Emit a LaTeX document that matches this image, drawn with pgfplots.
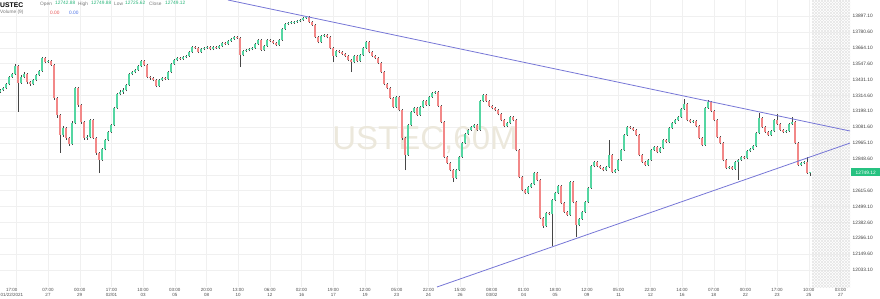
\documentclass[border=0pt]{standalone}
\usepackage{fontspec}
\setmainfont{Liberation Sans}
\usepackage{pgfplots}
\pgfplotsset{compat=1.18}
\usepackage{pgfplotstable}
\usetikzlibrary{patterns}
\definecolor{upc}{RGB}{85,214,162}
\definecolor{dnc}{RGB}{242,136,136}
\definecolor{wickc}{RGB}{70,70,70}
\definecolor{trendc}{RGB}{118,118,214}
\definecolor{wmark}{RGB}{236,232,220}
\definecolor{boxg}{RGB}{38,194,129}
\definecolor{hdrgreen}{RGB}{38,180,120}
\definecolor{hdrred}{RGB}{230,80,80}
\definecolor{hdrblue}{RGB}{70,110,230}
\definecolor{hdrgray}{RGB}{120,120,120}

\pgfplotstableread{
o h l c
13340 13362 13331 13354
13354 13378 13346 13369
13369 13405 13360 13398
13398 13458 13390 13450
13450 13481 13441 13472
13472 13545 13466 13531
13531 13538 13193 13406
13406 13461 13397 13450
13450 13483 13440 13472
13472 13478 13402 13413
13413 13421 13385 13398
13398 13436 13390 13428
13428 13473 13420 13465
13465 13503 13458 13494
13494 13597 13487 13589
13589 13598 13551 13560
13560 13578 13552 13567
13567 13574 13530 13538
13538 13545 13284 13296
13296 13305 13150 13171
13171 13180 12892 13024
13024 13088 13012 13075
13075 13083 12990 13002
13002 13010 12945 12958
12958 13125 12950 13112
13112 13378 13105 13369
13369 13376 13232 13244
13244 13252 13108 13119
13119 13127 12990 13002
13002 13021 12991 13009
13009 13143 13000 13134
13134 13140 12993 13002
13002 13010 12880 12892
12892 12900 12745 12841
12841 12930 12833 12921
12921 12996 12912 12987
12987 13055 12979 13046
13046 13106 13037 13097
13097 13230 13090 13222
13222 13334 13214 13325
13325 13352 13315 13340
13340 13366 13328 13354
13354 13399 13345 13391
13391 13480 13384 13472
13472 13497 13463 13486
13486 13510 13476 13501
13501 13540 13494 13531
13531 13576 13523 13567
13567 13573 13529 13538
13538 13545 13440 13450
13450 13458 13431 13442
13442 13449 13418 13428
13428 13434 13374 13384
13384 13437 13377 13428
13428 13452 13420 13442
13442 13450 13427 13436
13436 13494 13430 13486
13486 13553 13479 13545
13545 13584 13538 13575
13575 13599 13567 13589
13589 13596 13573 13582
13582 13603 13575 13594
13594 13613 13586 13604
13604 13641 13597 13633
13633 13678 13626 13670
13670 13679 13655 13663
13663 13669 13625 13633
13633 13664 13626 13655
13655 13672 13647 13663
13663 13679 13655 13670
13670 13676 13646 13655
13655 13678 13648 13670
13670 13677 13655 13663
13663 13686 13656 13677
13677 13707 13670 13699
13699 13705 13684 13692
13692 13722 13685 13714
13714 13737 13707 13729
13729 13752 13722 13743
13743 13750 13728 13736
13736 13741 13523 13611
13611 13650 13603 13641
13641 13658 13633 13648
13648 13664 13640 13655
13655 13672 13647 13663
13663 13700 13656 13692
13692 13729 13685 13721
13721 13727 13639 13648
13648 13685 13641 13677
13677 13729 13670 13721
13721 13728 13706 13714
13714 13720 13690 13699
13699 13705 13676 13685
13685 13729 13678 13721
13721 13810 13715 13802
13802 13847 13795 13839
13839 13855 13831 13846
13846 13859 13838 13850
13850 13862 13842 13854
13854 13867 13847 13858
13858 13877 13851 13868
13868 13891 13861 13883
13883 13900 13876 13890
13890 13896 13846 13854
13854 13861 13823 13832
13832 13838 13733 13743
13743 13750 13697 13707
13707 13759 13700 13751
13751 13767 13743 13758
13758 13765 13734 13743
13743 13749 13653 13663
13663 13669 13560 13604
13604 13649 13597 13641
13641 13650 13628 13636
13636 13643 13610 13619
13619 13626 13595 13604
13604 13611 13566 13575
13575 13582 13486 13560
13560 13612 13552 13604
13604 13611 13558 13567
13567 13619 13560 13611
13611 13671 13604 13663
13663 13716 13656 13707
13707 13713 13624 13633
13633 13640 13595 13604
13604 13611 13580 13589
13589 13596 13544 13553
13553 13559 13476 13486
13486 13492 13388 13398
13398 13405 13359 13369
13369 13375 13285 13296
13296 13302 13219 13230
13230 13312 13222 13303
13303 13309 13198 13208
13208 13214 12990 13002
13002 13009 12767 12877
12877 13106 12870 13097
13097 13201 13090 13193
13193 13231 13185 13222
13222 13229 13162 13171
13171 13238 13164 13230
13230 13282 13223 13274
13274 13281 13236 13244
13244 13311 13237 13303
13303 13341 13296 13332
13332 13350 13324 13340
13340 13347 13228 13237
13237 13244 13109 13119
13119 13125 12852 12863
12863 12870 12810 12819
12819 12826 12757 12767
12767 12775 12679 12709
12709 12776 12701 12767
12767 12871 12760 12863
12863 12973 12856 12965
12965 13040 12958 13031
13031 13070 13024 13061
13061 13092 13054 13083
13083 13106 13075 13097
13097 13104 13052 13061
13061 13282 13054 13274
13274 13326 13267 13318
13318 13324 13265 13274
13274 13281 13228 13237
13237 13245 13213 13222
13222 13230 13199 13208
13208 13215 13169 13178
13178 13185 13125 13134
13134 13141 13081 13090
13090 13121 13083 13112
13112 13164 13105 13156
13156 13163 13125 13134
13134 13140 12904 12914
12914 12921 12705 12716
12716 12723 12610 12620
12620 12628 12588 12598
12598 12650 12590 12642
12642 12673 12635 12664
12664 12753 12657 12745
12745 12752 12685 12694
12694 12700 12404 12415
12415 12422 12345 12356
12356 12460 12348 12452
12452 12461 12435 12444
12444 12555 12212 12547
12547 12606 12540 12598
12598 12658 12591 12650
12650 12656 12515 12525
12525 12532 12450 12459
12459 12466 12428 12437
12437 12687 12430 12679
12679 12685 12523 12532
12532 12538 12275 12364
12364 12416 12356 12408
12408 12467 12401 12459
12459 12540 12452 12532
12532 12643 12525 12635
12635 12805 12628 12797
12797 12835 12789 12826
12826 12833 12788 12797
12797 12804 12773 12782
12782 12790 12758 12767
12767 12797 12760 12789
12789 12987 12782 12877
12877 12884 12744 12753
12753 12776 12745 12767
12767 12849 12760 12841
12841 12922 12834 12914
12914 13032 12907 13024
13024 13091 13017 13083
13083 13092 13070 13079
13079 13086 13052 13061
13061 13068 13015 13024
13024 13030 12867 12877
12877 12884 12817 12826
12826 12833 12795 12804
12804 12849 12797 12841
12841 12922 12834 12914
12914 12945 12907 12936
12936 12943 12890 12899
12899 12937 12892 12929
12929 12995 12922 12987
12987 12995 12964 12973
12973 13083 12966 13075
13075 13120 13068 13112
13112 13143 13105 13134
13134 13165 13127 13156
13156 13223 13149 13215
13215 13290 13208 13252
13252 13258 13125 13134
13134 13142 13110 13119
13119 13134 13111 13125
13125 13132 13081 13090
13090 13096 12992 13002
13002 13009 12941 12951
12951 13230 12944 13222
13222 13281 13215 13266
13266 13272 13191 13200
13200 13207 13125 13134
13134 13140 12999 13009
13009 13016 12955 12965
12965 12971 12831 12841
12841 12848 12772 12782
12782 12798 12774 12789
12789 12796 12769 12778
12778 12834 12770 12826
12826 12850 12694 12841
12841 12872 12834 12863
12863 12870 12846 12855
12855 12915 12848 12907
12907 12930 12899 12921
12921 12952 12914 12943
12943 13047 12936 13039
13039 13186 13032 13149
13149 13155 13074 13083
13083 13090 13037 13046
13046 13053 13015 13024
13024 13062 13017 13053
13053 13142 13046 13134
13134 13178 13097 13105
13105 13112 13052 13061
13061 13068 13037 13046
13046 13062 13039 13053
13053 13113 13046 13105
13105 13156 13098 13119
13119 13125 12955 12965
12965 12971 12794 12804
12804 12828 12796 12819
12819 12835 12811 12826
12826 12860 12738 12745
12742.88 12749.88 12725.62 12749.12
}\candles

\begin{document}
\begin{tikzpicture}
\begin{axis}[
  at={(0,0)}, anchor=south west,
  width=850pt, height=287pt, scale only axis,
  xmin=0, xmax=850, ymin=11908.4, ymax=14015,
  scaled y ticks=false, scaled x ticks=false,
  axis line style={draw=none},
  major tick length=0pt,
  xmajorgrids, ymajorgrids,
  grid style={draw=black!6, line width=0.4pt},
  xtick={48,79.7,111.4,143.1,174.8,206.5,238.2,269.9,301.6,333.3,365,396.7,428.4,460.1,491.8,523.5,555.2,586.9,618.6,650.3,682,713.7,745.4,777.1,808.8,840.5},
  xticklabels={{07:00\\27},{00:00\\29},{17:00\\02/01},{10:00\\03},{03:00\\05},{20:00\\08},{13:00\\10},{06:00\\12},{02:00\\16},{19:00\\17},{12:00\\19},{05:00\\23},{22:00\\24},{15:00\\26},{08:00\\03/02},{01:00\\04},{18:00\\05},{12:00\\09},{05:00\\11},{22:00\\12},{14:00\\16},{07:00\\18},{00:00\\22},{17:00\\23},{10:00\\25},{03:00\\27}},
  extra x ticks={16.3},
  extra x tick labels={{17:00\\01/22/2021}},
  extra x tick style={grid=major, xticklabel style={xshift=-4.5pt}},
  xticklabel style={font=\fontsize{4.5}{4.8}\selectfont, text=black!70, align=center, inner sep=0pt, anchor=north, yshift=-1pt},
  ytick={12033.1,12149.6,12266.1,12382.6,12499.1,12615.6,12848.6,12965.1,13081.6,13198.1,13314.6,13431.1,13547.6,13664.1,13780.6,13897.1},
  extra y ticks={12732.1},
  extra y tick labels={},
  extra y tick style={grid=major},
  yticklabel pos=right,
  yticklabel style={font=\fontsize{4.8}{6}\selectfont, text=black!75, anchor=west, inner sep=0pt, xshift=2.5pt,
    /pgf/number format/fixed, /pgf/number format/fixed zerofill, /pgf/number format/precision=2,
    /pgf/number format/1000 sep={}, /pgf/number format/assume math mode=true},
  clip=true,
]
\fill[pattern=north east lines, pattern color=black!10] (axis cs:812,11908.4) rectangle (axis cs:850,14015);
\fill[pattern=north west lines, pattern color=black!10] (axis cs:812,11908.4) rectangle (axis cs:850,14015);
\node[font=\fontsize{33}{33}\selectfont, text=wmark] at (axis cs:425,12983.7) {USTEC,60M};

\addplot[draw=none, forget plot, error bars/.cd, y dir=plus, y explicit, error mark=none,
  error bar style={draw=wickc, line width=0.45pt}]
  table[x expr=\coordindex*3, y=l, y error plus expr={\thisrow{h}-\thisrow{l}}] {\candles};
\addplot[draw=none, forget plot, error bars/.cd, y dir=plus, y explicit, error mark=none,
  error bar style={draw=upc, line width=1.3pt}]
  table[x expr=\coordindex*3, y=o, y error plus expr={max(\thisrow{c}-\thisrow{o},0)}] {\candles};
\addplot[draw=none, forget plot, error bars/.cd, y dir=plus, y explicit, error mark=none,
  error bar style={draw=dnc, line width=1.3pt}]
  table[x expr=\coordindex*3, y=c, y error plus expr={max(\thisrow{o}-\thisrow{c},0)}] {\candles};

\addplot[trendc, line width=0.8pt, forget plot] coordinates {(228,14015) (850,13053.5)};
\addplot[trendc, line width=0.8pt, forget plot] coordinates {(437,11908.4) (850,12965)};

\coordinate (pb) at (axis cs:850,12749.12);
\end{axis}

\node[fill=boxg, text=white, font=\fontsize{4.8}{6}\selectfont, inner xsep=1pt, inner ysep=0pt,
  minimum height=8pt, minimum width=29pt, anchor=west, xshift=1pt] at (pb) {12749.12};

\node[anchor=west, inner sep=0pt, font=\fontsize{6.8}{8}\selectfont\bfseries] at (0pt,282pt) {USTEC};
\begin{scope}[every node/.style={anchor=west, inner sep=0pt, font=\fontsize{4.8}{6}\selectfont}]
\node[text=hdrgray] at (40pt,283pt) {Open};
\node[text=hdrgreen] at (55pt,284pt) {12742.88};
\node[text=hdrgray] at (78pt,283pt) {High};
\node[text=hdrgreen] at (91pt,284pt) {12749.88};
\node[text=hdrgray] at (114pt,283pt) {Low};
\node[text=hdrgreen] at (125pt,284pt) {12725.62};
\node[text=hdrgray] at (149pt,283pt) {Close};
\node[text=hdrgreen] at (165pt,284pt) {12749.12};
\node[text=hdrgray] at (0pt,274.3pt) {Volume (9)};
\node[text=hdrred] at (50pt,274.3pt) {0.00};
\node[text=hdrblue] at (69pt,274.3pt) {0.00};
\end{scope}

\pgfresetboundingbox
\path[use as bounding box] (0pt,-11pt) rectangle (880pt,287pt);
\end{tikzpicture}
\end{document}
